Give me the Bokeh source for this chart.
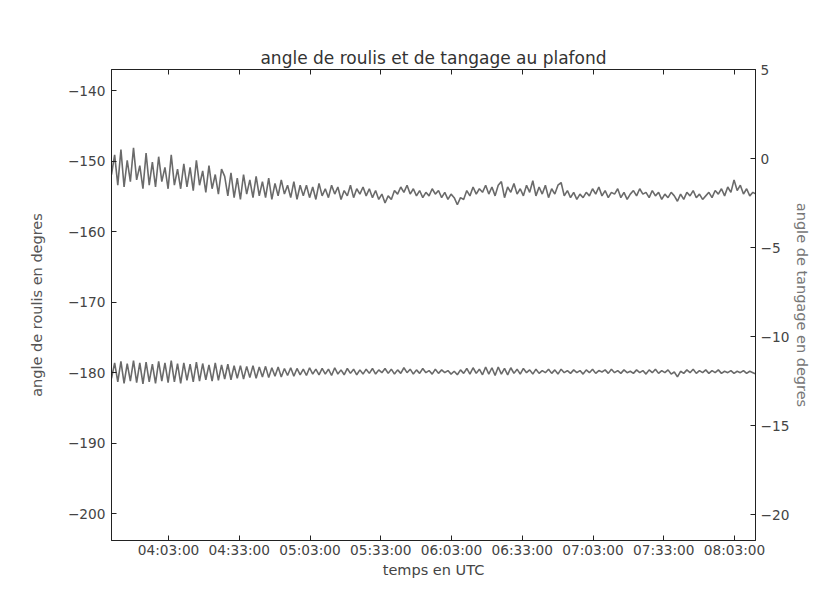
import pandas as pd
from bokeh.plotting import figure
from bokeh.models import (Range1d, LinearAxis, DatetimeAxis, FixedTicker,
                          DatetimeTickFormatter, CustomJSTickFormatter)
from bokeh.embed import file_html
from bokeh.resources import INLINE

# ---------------- data ----------------
day = "2016-01-01 "
start_time = "03:38:48"
end_time = "08:11:54"
sample_seconds = 80

time_tick_labels = ["04:03:00", "04:33:00", "05:03:00", "05:33:00", "06:03:00",
                    "06:33:00", "07:03:00", "07:33:00", "08:03:00"]

roll_ticks = [-200, -190, -180, -170, -160, -150, -140]
pitch_ticks = [-20, -15, -10, -5, 0, 5]

# angle de roulis (left axis)
roll = [
    -180.8, -178.6, -181.3, -178.4, -181.5, -178.7, -181.2, -178.3, -181.4, -178.6,
    -181.6, -178.5, -181.3, -178.8, -181.5, -178.4, -181.2, -178.6, -181.4, -178.3,
    -181.3, -178.7, -181.5, -178.6, -181.1, -178.8, -181.3, -178.5, -181.2, -178.7,
    -181.0, -178.9, -181.2, -178.6, -181.1, -178.9, -180.9, -178.8, -181.0, -179.0,
    -180.8,
    -179.0, -180.9, -179.1, -180.7, -179.0, -180.8, -179.2, -180.6, -179.1, -180.7,
    -179.3, -180.5, -179.2, -180.6, -179.4, -180.4, -179.3, -180.5, -179.4, -180.3,
    -179.5, -180.4, -179.3, -180.2, -179.5,
    -180.3, -179.4, -180.2, -179.5, -180.4, -179.3, -180.2, -179.6, -180.3, -179.4,
    -180.1, -179.5, -180.3, -179.6, -180.2,
    -179.5, -180.1, -179.4, -180.2, -179.6, -180.0, -179.4, -180.1, -179.5, -180.2,
    -179.6, -180.1, -179.3, -180.0, -179.5, -180.2, -179.6, -180.1, -179.4, -180.0,
    -179.7, -180.2, -179.5, -180.1, -179.6, -180.0, -179.7, -180.2, -179.8, -180.3,
    -179.6, -180.1, -179.4, -180.2, -179.3, -180.1, -179.5, -180.3, -179.2, -180.2,
    -179.3, -180.4, -179.2, -180.2, -179.4, -180.3, -179.3, -180.1, -179.5, -180.2,
    -179.4, -180.0, -179.6, -180.2, -179.5, -180.1, -179.7, -180.0, -179.5, -180.1,
    -179.6, -180.2, -179.5, -180.0, -179.7, -180.1, -179.6, -180.0, -179.7, -180.2,
    -179.6, -180.0, -179.5, -180.1, -179.7, -179.9, -179.6, -180.1, -179.5, -180.0,
    -179.7, -180.1, -179.6, -180.0, -179.8, -180.1, -179.6, -180.0, -179.7, -180.2,
    -179.6, -180.0, -179.5, -180.1, -179.7, -180.0, -179.6, -180.2, -179.9, -180.6,
    -179.8, -180.1, -179.6, -180.0, -179.5, -180.1, -179.7, -180.0, -179.6, -180.1,
    -179.7, -180.0, -179.6, -180.1, -179.8, -180.0, -179.7, -180.1, -179.8, -180.0,
    -179.7, -180.1, -179.8, -180.0, -180.2,
]

# angle de tangage (right axis)
pitch = [
    -0.9, 0.2, -1.5, 0.5, -1.6, -0.1, -1.3, 0.6, -1.2, -0.4,
    -1.7, 0.3, -1.5, -0.2, -1.6, 0.1, -1.3, -0.5, -1.7, 0.2, -1.5,
    -0.6, -1.7, -0.3, -1.6, -0.5, -1.8, -0.1, -1.5, -0.7, -1.9,
    -0.4, -1.7, -0.9, -2.0, -0.6,
    -1.0, -2.1, -0.8, -2.2, -1.1, -2.3, -0.9, -2.0, -1.2, -2.2,
    -1.0, -2.1, -1.3, -2.2, -1.1, -2.3, -1.4, -2.1, -1.2, -2.0,
    -1.5, -2.2, -1.3, -2.3, -1.5,
    -2.1, -1.5, -2.2, -1.6, -2.3, -1.4, -2.1, -1.7, -2.2, -1.5,
    -2.0, -1.6, -2.3, -1.8, -2.1, -1.5, -2.2, -1.7, -2.0, -1.6,
    -2.1, -1.7, -2.2, -1.8, -2.3, -2.0, -2.5, -2.1, -2.3, -1.8,
    -2.0, -1.6, -1.9, -1.5, -2.0, -1.7, -2.1, -1.8, -2.2, -1.9,
    -2.1, -1.7, -2.0, -1.8, -2.2, -1.9, -2.3, -2.0, -2.2, -2.6,
    -2.2, -2.3, -1.8, -2.1, -1.6, -2.0, -1.7, -1.9, -1.5, -2.0,
    -1.6, -2.1, -1.5, -1.3, -2.2, -1.6, -1.9, -1.4, -2.0, -1.7,
    -2.1, -1.5, -1.9, -1.25, -2.1, -1.6, -2.0, -1.5, -2.2, -1.7,
    -2.0, -1.5, -1.35, -2.1, -1.8, -2.2, -1.9, -2.3, -2.0, -2.2,
    -1.9, -2.1, -1.7, -2.0, -1.6, -2.1, -1.8, -2.2, -1.9, -2.0,
    -1.7, -2.2, -1.9, -2.3, -2.0, -1.8, -2.1, -1.7, -2.0, -1.9,
    -2.2, -1.8, -2.1, -1.9, -2.3, -2.0, -2.2, -1.9, -2.1, -2.4,
    -2.0, -2.3, -1.9, -2.1, -1.8, -2.2, -2.0, -2.3, -2.1, -1.9,
    -2.2, -1.8, -2.0, -1.7, -2.1, -1.6, -1.9, -1.2, -1.8, -1.5,
    -2.0, -1.7, -2.1, -1.9, -2.0,
]

# ---------------- build ----------------
FONT = "DejaVu Sans"
LINE = "#6a6a6a"

t0 = pd.Timestamp(day + start_time)
t_end = pd.Timestamp(day + end_time)
t_roll = pd.date_range(t0, periods=len(roll), freq=f"{sample_seconds}s")
t_pitch = pd.date_range(t0, periods=len(pitch), freq=f"{sample_seconds}s")
tick_ms = [pd.Timestamp(day + s).value // 10**6 for s in time_tick_labels]

p = figure(width=815, height=584, output_backend="svg", toolbar_location=None,
           x_axis_type=None, y_axis_type=None,
           x_range=Range1d(t0, t_end), y_range=Range1d(-203.8, -137.0),
           min_border_left=111, min_border_right=60, min_border_top=69,
           min_border_bottom=44)
p.extra_y_ranges = {"tangage": Range1d(-21.46, 5.0)}

p.title.text = "angle de roulis et de tangage au plafond"
p.title.align = "center"
p.title.text_font = FONT
p.title.text_font_size = "17px"
p.title.text_font_style = "normal"
p.title.text_color = "#333333"
p.title.standoff = 4

p.grid.visible = False
p.outline_line_color = "#222222"
p.outline_line_width = 1
p.background_fill_color = "white"
p.border_fill_color = "white"

minus = CustomJSTickFormatter(code="return tick < 0 ? '\u2212' + Math.abs(tick) : String(tick);")


def style(ax, label_color):
    ax.major_tick_in = 5
    ax.major_tick_out = 0
    ax.minor_tick_line_color = None
    ax.axis_line_color = "#222222"
    ax.major_tick_line_color = "#222222"
    ax.major_label_text_font = FONT
    ax.major_label_text_font_size = "13.7px"
    ax.major_label_text_color = "#444444"
    ax.axis_label_text_font = FONT
    ax.axis_label_text_font_size = "14.5px"
    ax.axis_label_text_font_style = "normal"
    ax.axis_label_text_color = label_color


fmt = "%H:%M:%S"
xb = DatetimeAxis(ticker=FixedTicker(ticks=tick_ms),
                  formatter=DatetimeTickFormatter(seconds=fmt, minsec=fmt, minutes=fmt,
                                                  hourmin=fmt, hours=fmt, days=fmt, context=None),
                  axis_label="temps en UTC")
style(xb, "#444444")
xb.major_label_standoff = 1
xb.axis_label_standoff = 1
p.add_layout(xb, "below")

xt = DatetimeAxis(ticker=FixedTicker(ticks=tick_ms),
                  formatter=CustomJSTickFormatter(code="return '';"))
style(xt, "#444444")
xt.major_label_standoff = 0
xt.major_label_text_font_size = "1px"
p.add_layout(xt, "above")

yl = LinearAxis(ticker=FixedTicker(ticks=roll_ticks), formatter=minus,
                axis_label="angle de roulis en degres")
style(yl, "#555555")
yl.major_label_standoff = 6
yl.axis_label_standoff = 20
p.add_layout(yl, "left")

yr = LinearAxis(y_range_name="tangage", ticker=FixedTicker(ticks=pitch_ticks), formatter=minus,
                axis_label="angle de tangage en degres")
style(yr, "#777777")
yr.major_label_standoff = 5
yr.axis_label_standoff = 2
p.add_layout(yr, "right")

p.line(t_roll, roll, line_color=LINE, line_width=1.6)
p.line(t_pitch, pitch, line_color=LINE, line_width=1.6, y_range_name="tangage")

open("out.html", "w").write(file_html(p, INLINE))
